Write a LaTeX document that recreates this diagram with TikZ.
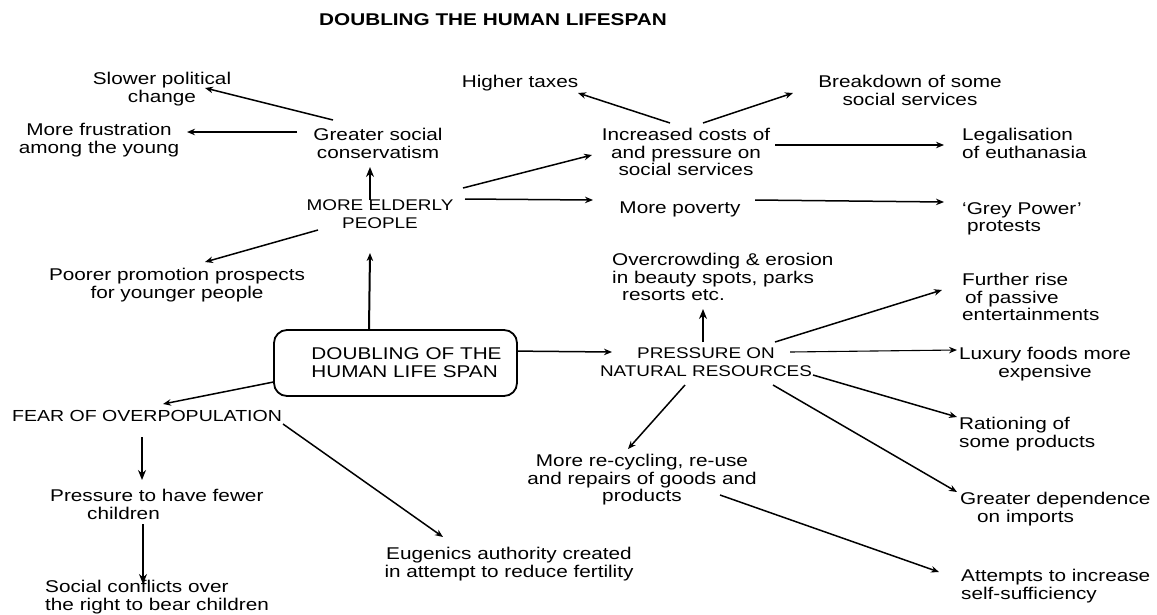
\documentclass[tikz,border=0pt]{standalone}
\usepackage{fontspec}
\setmainfont{Liberation Sans}[FakeStretch=1.22]
\usetikzlibrary{arrows.meta}
\begin{document}
\begin{tikzpicture}[x=1pt,y=-1pt,
  txt/.style={inner sep=0pt, font=\fontsize{17}{17.5}\selectfont, align=center},
  txtl/.style={txt, align=left, anchor=north west},
  txtc/.style={txt, anchor=north},
  capc/.style={txtc, font=\fontsize{15.5}{18}\selectfont},
  arr/.style={line width=1.5pt, -{Stealth[length=8pt,width=6.5pt]}},
  arrb/.style={line width=2.6pt, -{Stealth[length=10pt,width=8pt]}},
  lifebox/.style={draw, line width=1.8pt, rounded corners=13pt, minimum width=243pt,
                  minimum height=66pt, inner sep=0pt, align=left,
                  font=\fontsize{17}{18}\selectfont}
]
\useasboundingbox (0,0) rectangle (1157,614);

% title
\node[txtc, font=\bfseries\fontsize{17}{18}\selectfont] (title) at (493,13) {DOUBLING THE HUMAN LIFESPAN};

% nodes
\node[txtc] (sp) at (162,72) {Slower political\\change};
\node[txtc] (mf) at (99,123) {More frustration\\among the young};
\node[txtc] (gs) at (378,128) {Greater social\\conservatism};
\node[capc] (me) at (380,199) {MORE ELDERLY\\PEOPLE};
\node[txtc] (pp) at (177,268) {Poorer promotion prospects\\for younger people};
\node[txtc] (ht) at (520,75) {Higher taxes};
\node[txtc] (bd) at (910,75) {Breakdown of some\\social services};
\node[txtc] (ic) at (686,128) {Increased costs of\\and pressure on\\social services};
\node[txtl] (le) at (962,128) {Legalisation\\of euthanasia};
\node[txtc] (mp) at (680,202) {More poverty};
\node[txtl] (gp) at (962,202) {`Grey Power'\\\hspace*{5pt}protests};
\node[txtl] (oc) at (612,253) {Overcrowding \& erosion\\in beauty spots, parks\\\hspace*{10pt}resorts etc.};
\node[txtl] (fr) at (962,273) {Further rise\\\hspace*{3pt}of passive\\entertainments};
\node[lifebox] (bx) at (395.5,363) {\hspace*{22pt}DOUBLING OF THE\\\hspace*{22pt}HUMAN LIFE SPAN};
\node[capc] (pr) at (706,347) {PRESSURE ON\\NATURAL RESOURCES};
\node[txtc] (lx) at (1045,347) {Luxury foods more\\expensive};
\node[txtl, font=\fontsize{16}{18}\selectfont] (fo) at (12,410) {FEAR OF OVERPOPULATION};
\node[txtl] (ra) at (959,417) {Rationing of\\some products};
\node[txtc] (rc) at (642,454) {More re-cycling, re-use\\and repairs of goods and\\products};
\node[txtl] (pf) at (50,489) {Pressure to have fewer\\\hspace*{37pt}children};
\node[txtl] (gd) at (960,492) {Greater dependence\\\hspace*{17pt}on imports};
\node[txtc] (eu) at (509,547) {Eugenics authority created\\in attempt to reduce fertility};
\node[txtl] (att) at (961,569) {Attempts to increase\\self-sufficiency};
\node[txtl] (sc) at (45,580) {Social conflicts over\\the right to bear children};

% connectors
\draw[arr]  ([shift={(-45,-8)}]gs.north) -- ([shift={(43,16)}]sp.north);
\draw[arr]  ([shift={(-81,4)}]gs.north) -- ([shift={(88,9)}]mf.north);
\draw[arrb] ([shift={(-10,1)}]me.north) -- ([shift={(-8,39)}]gs.north);
\draw[arr]  ([shift={(-62,31)}]me.north) -- ([shift={(28,-6)}]pp.north);
\draw[arr]  ([shift={(83,-11)}]me.north) -- ([shift={(-94,27)}]ic.north);
\draw[arr]  ([shift={(85,0)}]me.north) -- ([shift={(-87,-2)}]mp.north);
\draw[arr, line width=2pt] ([shift={(-26.5,0)}]bx.north) -- ([shift={(-10,54)}]me.north);
\draw[arr]  ([shift={(-16,-5)}]ic.north) -- ([shift={(58,18)}]ht.north);
\draw[arr]  ([shift={(17,-5)}]ic.north) -- ([shift={(-117,18)}]bd.north);
\draw[arr, line width=1.1pt]  ([shift={(89,17)}]ic.north) -- ([shift={(-18,17)}]le.north west);
\draw[arr]  ([shift={(75,-2)}]mp.north) -- ([shift={(-18,0)}]gp.north west);
\draw[arr]  ([shift={(-122.5,53)}]bx.north) -- ([shift={(151,-6)}]fo.north west);
\draw[arrb] ([shift={(130,27)}]fo.north west) -- ([shift={(92,-9)}]pf.north west);
\draw[arrb] ([shift={(93,35)}]pf.north west) -- ([shift={(98,4)}]sc.north west);
\draw[arr]  ([shift={(271,14)}]fo.north west) -- ([shift={(-66,-10)}]eu.north);
\draw[arr]  ([shift={(122.5,22)}]bx.north) -- ([shift={(-94,5)}]pr.north);
\draw[arrb] ([shift={(-3,-5)}]pr.north) -- ([shift={(91,56)}]oc.north west);
\draw[arr]  ([shift={(69,-5)}]pr.north) -- ([shift={(-20,17)}]fr.north west);
\draw[arr, line width=1.1pt]  ([shift={(84,5)}]pr.north) -- ([shift={(-88,3)}]lx.north);
\draw[arr]  ([shift={(107,28)}]pr.north) -- ([shift={(-2,0)}]ra.north west);
\draw[arr]  ([shift={(67,38)}]pr.north) -- ([shift={(-3,0)}]gd.north west);
\draw[arr]  ([shift={(-21,38)}]pr.north) -- ([shift={(-14,-5)}]rc.north);
\draw[arr]  ([shift={(78,41)}]rc.north) -- ([shift={(-22,3)}]att.north west);
\end{tikzpicture}
\end{document}
